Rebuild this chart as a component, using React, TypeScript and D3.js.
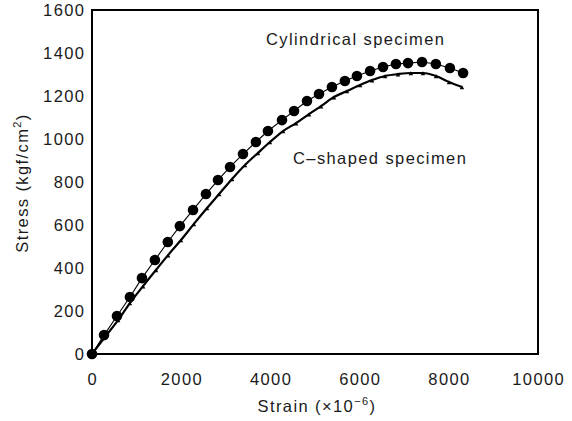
import React from 'react';
import * as d3 from 'd3';

// Cylindrical specimen (circles)
const cylStrain = [0, 270, 560, 850, 1120, 1410, 1700, 1970, 2265, 2555, 2825, 3095, 3385, 3675, 3945, 4260, 4530, 4820, 5090, 5380, 5670, 5940, 6235, 6525, 6815, 7085, 7400, 7710, 8025, 8320];
const cylStress = [0, 88, 177, 265, 353, 437, 521, 595, 670, 744, 809, 870, 930, 986, 1037, 1088, 1130, 1177, 1209, 1242, 1270, 1293, 1316, 1335, 1349, 1353, 1358, 1349, 1330, 1307];

// C-shaped specimen (line with small markers)
const cStrain = [0, 290, 585, 850, 1145, 1435, 1705, 1995, 2285, 2580, 2850, 3140, 3430, 3720, 3990, 4285, 4575, 4865, 5135, 5425, 5715, 6010, 6280, 6570, 6860, 7150, 7420, 7715, 8005, 8295];
const cStress = [0, 79, 158, 237, 316, 391, 460, 530, 605, 679, 744, 814, 879, 935, 986, 1037, 1074, 1116, 1153, 1195, 1223, 1251, 1274, 1293, 1302, 1307, 1307, 1293, 1265, 1242];

const xTicks = [0, 2000, 4000, 6000, 8000, 10000];
const yTicks = [0, 200, 400, 600, 800, 1000, 1200, 1400, 1600];

const width = 572;
const height = 421;
const margin = { top: 10, right: 34, bottom: 67, left: 92 };
const font = '"Liberation Sans", Arial, sans-serif';
const ls = 1.4;

export default function App() {
  const x = d3.scaleLinear().domain([0, 10000]).range([margin.left, width - margin.right]);
  const y = d3.scaleLinear().domain([0, 1600]).range([height - margin.bottom, margin.top]);

  const cyl = cylStrain.map((s, i) => [s, cylStress[i]] as [number, number]);
  const cs = cStrain.map((s, i) => [s, cStress[i]] as [number, number]);

  const line = d3.line<[number, number]>().x(d => x(d[0])).y(d => y(d[1]));
  const smooth = d3.line<[number, number]>().x(d => x(d[0])).y(d => y(d[1])).curve(d3.curveMonotoneX);
  const tri = d3.symbol().type(d3.symbolTriangle).size(9)();

  return (
    <svg width={width} height={height} style={{ position: 'absolute', left: 0, top: 0, background: '#fff' }} fontFamily={font} letterSpacing={ls}>
      <rect x={x(0)} y={y(1600)} width={x(10000) - x(0)} height={y(0) - y(1600)} fill="none" stroke="#000" strokeWidth={2} />

      {yTicks.map(t => (
        <text key={t} x={84 + ls} y={y(t)} dy="0.36em" textAnchor="end" fontSize={16.5} fill="#1a1a1a">{t}</text>
      ))}
      {xTicks.map(t => (
        <text key={t} x={x(t) + ls / 2} y={385} textAnchor="middle" fontSize={16.5} fill="#1a1a1a">{t}</text>
      ))}

      <path d={smooth(cs) || ''} fill="none" stroke="#000" strokeWidth={2.2} />
      {cs.map((d, i) => (
        <path key={i} d={tri} transform={`translate(${x(d[0])},${y(d[1]) + 1})`} fill="#000" />
      ))}

      <path d={line(cyl) || ''} fill="none" stroke="#000" strokeWidth={1.1} />
      {cyl.map((d, i) => (
        <circle key={i} cx={x(d[0])} cy={y(d[1])} r={5.3} fill="#000" />
      ))}

      <text x={266} y={45} fontSize={16.5} fill="#1a1a1a">Cylindrical specimen</text>
      <text x={293} y={164} fontSize={16.5} fill="#1a1a1a">C–shaped specimen</text>

      <text x={317} y={412} textAnchor="middle" fontSize={16.5} fill="#1a1a1a">
        Strain (×10<tspan dy={-7} fontSize={11}>−6</tspan><tspan dy={7}>)</tspan>
      </text>
      <text transform="translate(28,183) rotate(-90)" textAnchor="middle" fontSize={16.5} fill="#1a1a1a">
        Stress (kgf/cm<tspan dy={-7} fontSize={11}>2</tspan><tspan dy={7}>)</tspan>
      </text>
    </svg>
  );
}
